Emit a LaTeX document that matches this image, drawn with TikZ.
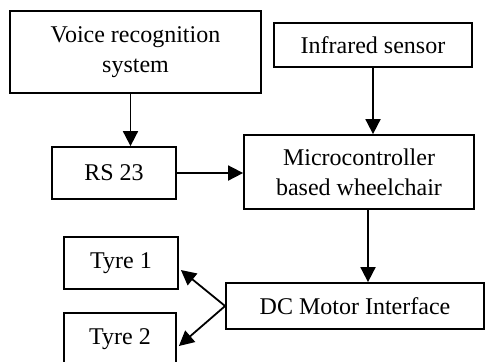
\documentclass[tikz,border=0pt]{standalone}
\usepackage{fontspec}
\setmainfont{Liberation Serif}
\usetikzlibrary{arrows.meta,positioning}

\begin{document}
\begin{tikzpicture}[x=0.5pt,y=-0.5pt,line width=0.9pt,
    font=\fontsize{12pt}{15pt}\selectfont,
    block/.style={draw,rectangle,align=center,inner sep=0pt},
    >={Triangle[length=7.5pt,width=7.5pt]}]
   \useasboundingbox (0,0) rectangle (485,361);
   \node[block,minimum width=125.5pt,minimum height=41pt] (Voice) at (135.5,52) {Voice recognition\\system};
   \node[block,minimum width=99pt,minimum height=22pt] (Infra) at (373,45) {Infrared sensor};
   \node[block,minimum width=62pt,minimum height=26pt] (RS) at (114,173) {RS 23};
   \node[block,minimum width=115pt,minimum height=37pt] (Micro) at (359,172) {Microcontroller\\based wheelchair};
   \node[block,minimum width=129pt,minimum height=23pt] (DC) at (355,306) {DC Motor Interface};
   \node[block,minimum width=57pt,minimum height=26pt] (Tyre1) at (121,263) {Tyre 1};
   \node[block,minimum width=56pt,minimum height=26pt] (Tyre2) at (120,339) {Tyre 2};
    \path[->]
    ([xshift=-2.5pt]Voice.south) edge ([xshift=-2.5pt]Voice.south |- RS.north)
    (Infra.south) edge (Infra.south |- Micro.north)
    (RS.east) edge (RS.east -| Micro.west)
    ([xshift=4.5pt]Micro.south) edge ([xshift=4.5pt]Micro.south |- DC.north)
    (DC.west) edge ([xshift=1pt,yshift=-3.5pt]Tyre1.east)
              edge ([xshift=1pt,yshift=-3.5pt]Tyre2.east);
\end{tikzpicture}
\end{document}
